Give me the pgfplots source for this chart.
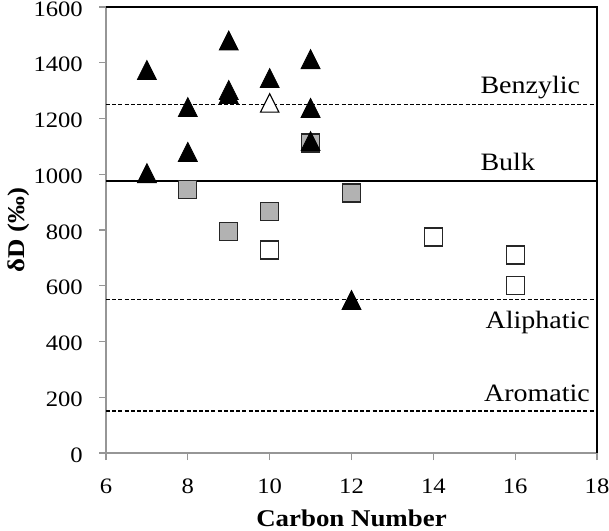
\documentclass[border=0pt]{standalone}
\usepackage{pgfplots}
\pgfplotsset{compat=1.18}
\usepackage{fontspec}
\setmainfont{Liberation Serif}[FakeStretch=1.12]
\definecolor{axgray}{RGB}{150,150,150}
\definecolor{sqgray}{RGB}{178,178,178}
\pgfdeclareplotmark{etri}{%
  \pgfpathmoveto{\pgfqpoint{0pt}{\pgfplotmarksize}}%
  \pgfpathlineto{\pgfqpoint{-\pgfplotmarksize}{-\pgfplotmarksize}}%
  \pgfpathlineto{\pgfqpoint{\pgfplotmarksize}{-\pgfplotmarksize}}%
  \pgfpathclose\pgfusepathqfillstroke}
\begin{document}
\begin{tikzpicture}
\useasboundingbox (-106pt,-77pt) rectangle (503pt,453pt);
\begin{axis}[
  at={(0,0)}, anchor=south west,
  scale only axis, width=491pt, height=446pt,
  xmin=6, xmax=18, ymin=0, ymax=1600,
  xtick={6,8,...,18}, ytick={0,200,...,1600},
  xticklabels={,,}, yticklabels={,,},
  axis x line*=bottom, axis y line*=left,
  axis line style={axgray, line width=1.2pt, -},
  tick style={axgray, line width=1.2pt},
  tick align=outside,
  major tick length=7pt,
  every axis x label/.style={at={(axis description cs:0.5,-0.1637)}, anchor=base, font=\fontsize{24}{26}\selectfont\bfseries, inner sep=0pt},
  every axis y label/.style={at={(axis description cs:-0.165,0.5)}, rotate=90, anchor=base, font=\fontsize{24}{26}\selectfont\bfseries, inner sep=0pt},
  xlabel={Carbon Number}, ylabel={δD (‰)},
  clip=false,
]
% reference lines
\addplot[black, line width=1.4pt, dash pattern=on 4pt off 2.2pt] coordinates {(6,1250) (18,1250)};
\addplot[black, line width=2pt] coordinates {(6,975) (18,975)};
\addplot[black, line width=1.4pt, dash pattern=on 4pt off 2.2pt] coordinates {(6,550) (18,550)};
\addplot[black, line width=1.4pt, dash pattern=on 4pt off 2.2pt] coordinates {(6,150) (18,150)};
\draw[black, line width=1.5pt] (rel axis cs:0,1) -- (rel axis cs:1,1) -- (rel axis cs:1,0);
% tick labels
\begin{scope}[every node/.style={font=\fontsize{22}{24}\selectfont, inner sep=0pt}]
\node[anchor=base] at ([yshift=-40pt]axis cs:6,0) {6};
\node[anchor=base] at ([yshift=-40pt]axis cs:8,0) {8};
\node[anchor=base] at ([yshift=-40pt]axis cs:10,0) {10};
\node[anchor=base] at ([yshift=-40pt]axis cs:12,0) {12};
\node[anchor=base] at ([yshift=-40pt]axis cs:14,0) {14};
\node[anchor=base] at ([yshift=-40pt]axis cs:16,0) {16};
\node[anchor=base] at ([yshift=-40pt]axis cs:18,0) {18};
\node[anchor=east] at ([xshift=-23pt,yshift=-2pt]axis cs:6,0) {0};
\node[anchor=east] at ([xshift=-23pt,yshift=-2pt]axis cs:6,200) {200};
\node[anchor=east] at ([xshift=-23pt,yshift=-2pt]axis cs:6,400) {400};
\node[anchor=east] at ([xshift=-23pt,yshift=-2pt]axis cs:6,600) {600};
\node[anchor=east] at ([xshift=-23pt,yshift=-2pt]axis cs:6,800) {800};
\node[anchor=east] at ([xshift=-23pt,yshift=-2pt]axis cs:6,1000) {1000};
\node[anchor=east] at ([xshift=-23pt,yshift=-2pt]axis cs:6,1200) {1200};
\node[anchor=east] at ([xshift=-23pt,yshift=-2pt]axis cs:6,1400) {1400};
\node[anchor=east] at ([xshift=-23pt,yshift=-2pt]axis cs:6,1600) {1600};
\end{scope}
% labels
\begin{scope}[every node/.style={font=\fontsize{25}{27}\selectfont, inner sep=0pt}]
\node[anchor=base east] at (axis cs:17.59,1291) {Benzylic};
\node[anchor=base east] at (axis cs:16.49,1015) {Bulk};
\node[anchor=base east] at (axis cs:17.83,445) {Aliphatic};
\node[anchor=base east] at (axis cs:17.83,183) {Aromatic};
\end{scope}
% gray squares
\addplot[only marks, mark=square*, mark size=9pt, mark options={fill=sqgray, draw=black!85, line width=1.3pt}] coordinates {
(8,945) (9,795) (10,866) (11,1112) (12,933)};
% white squares
\addplot[only marks, mark=square*, mark size=9pt, mark options={fill=white, draw=black!85, line width=1.3pt}] coordinates {
(10,728) (14,775) (16,710) (16,601)};
% black triangles
\addplot[only marks, mark=etri, mark size=9.5pt, mark options={fill=black, draw=black, line width=0.8pt}] coordinates {
(7,1374) (7,1004) (8,1241) (8,1080) (9,1480) (9,1302) (9,1288) (10,1345) (11,1413) (11,1238) (11,1119) (12,549)};
% white triangle
\addplot[only marks, mark=etri, mark size=9.2pt, mark options={fill=white, draw=black, line width=1.1pt}] coordinates {
(10,1256)};
\end{axis}
\end{tikzpicture}
\end{document}
